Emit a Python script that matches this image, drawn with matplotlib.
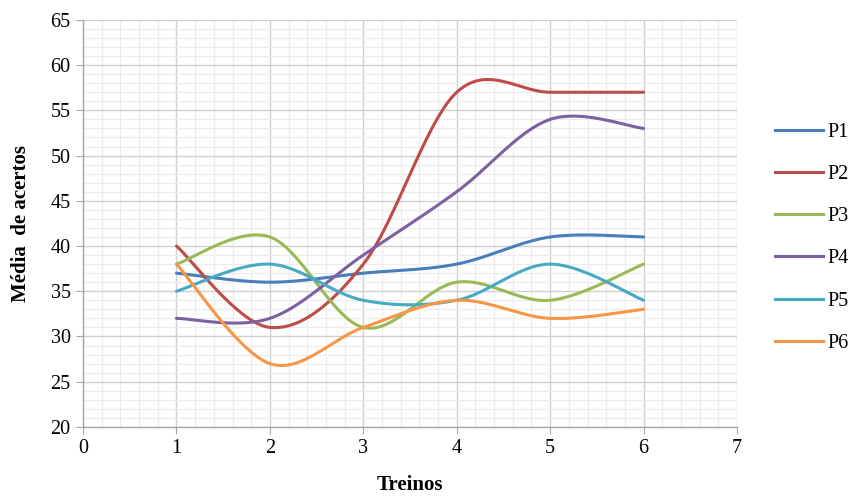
import numpy as np
import matplotlib
matplotlib.use("Agg")
import matplotlib.pyplot as plt
from matplotlib.ticker import MultipleLocator
from matplotlib.lines import Line2D

treinos = [1, 2, 3, 4, 5, 6]
series_names = ["P1", "P2", "P3", "P4", "P5", "P6"]
p1 = [37, 36, 37, 38, 41, 41]
p2 = [40, 31, 38, 57, 57, 57]
p3 = [38, 41, 31, 36, 34, 38]
p4 = [32, 32, 39, 46, 54, 53]
p5 = [35, 38, 34, 34, 38, 34]
p6 = [38, 27, 31, 34, 32, 33]
colors = ["#4A7EBB", "#BE4B48", "#98B954", "#7D60A0", "#46AAC5", "#F79646"]
yticks = [20, 25, 30, 35, 40, 45, 50, 55, 60, 65]
xticks = [0, 1, 2, 3, 4, 5, 6, 7]

plt.rcParams['font.family'] = ['Liberation Serif', 'DejaVu Serif']


def smooth(xs, ys, n=40):
    xs = np.asarray(xs, float)
    ys = np.asarray(ys, float)
    P = np.column_stack([xs, ys])
    Pe = np.vstack([P[0], P, P[-1]])
    out = []
    t = np.linspace(0, 1, n)[:, None]
    for i in range(len(P) - 1):
        p0 = Pe[i + 1]
        p3 = Pe[i + 2]
        c1 = p0 + (Pe[i + 2] - Pe[i]) / 6.0
        c2 = p3 - (Pe[i + 3] - Pe[i + 1]) / 6.0
        seg = ((1 - t) ** 3) * p0 + 3 * ((1 - t) ** 2) * t * c1 + 3 * (1 - t) * t ** 2 * c2 + t ** 3 * p3
        out.append(seg if i == 0 else seg[1:])
    s = np.vstack(out)
    return s[:, 0], s[:, 1]


fig = plt.figure(figsize=(8.56, 4.97), dpi=100)
ax = fig.add_axes([0.097, 0.141, 0.764, 0.819])

data = [p1, p2, p3, p4, p5, p6]
handles = []
for name, vals, c in zip(series_names, data, colors):
    sx, sy = smooth(treinos, vals)
    ax.plot(sx, sy, color=c, lw=2.2, solid_capstyle='round', zorder=3)
    handles.append(Line2D([0], [0], color=c, lw=2.2))

ax.set_xlim(0, 7)
ax.set_ylim(20, 65)
ax.set_xticks(xticks)
ax.set_yticks(yticks)
ax.xaxis.set_minor_locator(MultipleLocator(0.2))
ax.yaxis.set_minor_locator(MultipleLocator(1))
ax.grid(which='major', color='#d0d0d0', lw=1.0, zorder=1)
ax.grid(which='minor', color='#ececec', lw=0.8, zorder=0)
ax.set_axisbelow(True)
for s in ['top', 'right']:
    ax.spines[s].set_visible(False)
for s in ['left', 'bottom']:
    ax.spines[s].set_color('#a6a6a6')
    ax.spines[s].set_linewidth(1.0)
ax.tick_params(which='major', direction='out', length=5, color='#a6a6a6', labelsize=14.5, pad=4)
ax.tick_params(which='minor', length=0)
ax.set_xlabel('Treinos', fontsize=15, fontweight='bold', labelpad=12)
ax.set_ylabel('Média  de acertos', fontsize=15, fontweight='bold', labelpad=14)

fig.legend(handles, series_names, loc='upper left', bbox_to_anchor=(0.884, 0.79),
           frameon=False, fontsize=14.5, handlelength=2.4, handletextpad=0.2,
           labelspacing=1.15)

fig.savefig('out.png', dpi=100, facecolor='white')
